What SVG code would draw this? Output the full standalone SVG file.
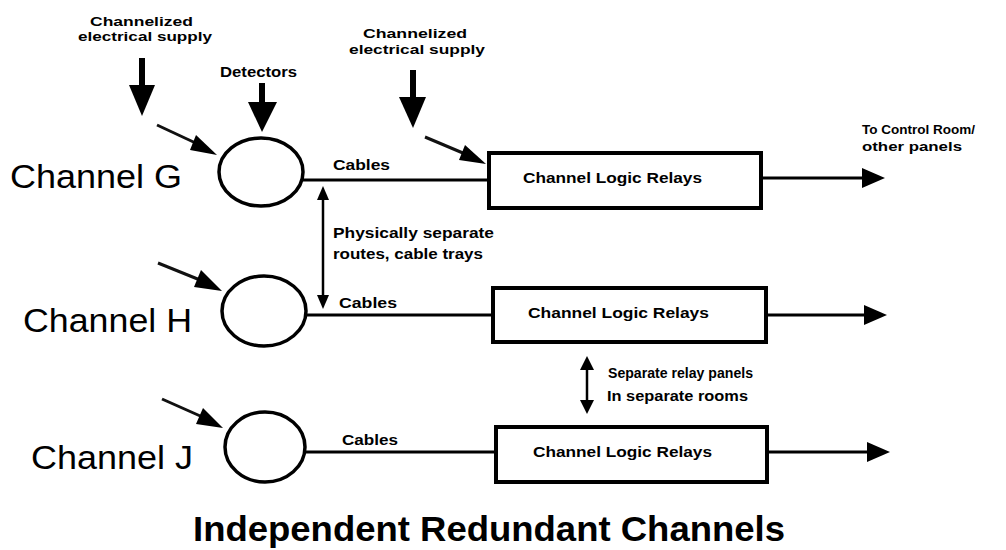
<svg xmlns="http://www.w3.org/2000/svg" width="1006" height="550" viewBox="0 0 1006 550">
  <style>
    .bg { fill: #ffffff; }
    .chan { font-family: "Liberation Sans", Arial, Helvetica, sans-serif; font-size: 34px; fill: #000; }
    .lbl { font-family: "Liberation Sans", Arial, Helvetica, sans-serif; font-size: 15px; font-weight: bold; fill: #000; }
    .sm { font-family: "Liberation Sans", Arial, Helvetica, sans-serif; font-size: 13px; font-weight: bold; fill: #000; }
    .title { font-family: "Liberation Sans", Arial, Helvetica, sans-serif; font-size: 35px; font-weight: bold; fill: #000; }
    .det { fill: #fff; stroke: #000; stroke-width: 3.5; }
    .box { fill: #fff; stroke: #000; stroke-width: 4; }
    .wire { stroke: #000; stroke-width: 3; fill: none; }
    .thin { stroke: #000; stroke-width: 2.5; fill: none; }
    .feed { stroke: #111; stroke-width: 3; fill: none; }
    .head { fill: #000; }
  </style>

  <rect class="bg" x="0" y="0" width="1006" height="550"/>

  <!-- channel names -->
  <g id="channel-names">
    <text class="chan" x="10" y="188" textLength="172" lengthAdjust="spacingAndGlyphs">Channel G</text>
    <text class="chan" x="23" y="332" textLength="169" lengthAdjust="spacingAndGlyphs">Channel H</text>
    <text class="chan" x="31" y="469" textLength="162" lengthAdjust="spacingAndGlyphs">Channel J</text>
  </g>

  <!-- supply and detector labels -->
  <g id="supply-labels">
    <text class="sm" x="90" y="26" textLength="103" lengthAdjust="spacingAndGlyphs">Channelized</text>
    <text class="sm" x="78" y="41" textLength="134" lengthAdjust="spacingAndGlyphs">electrical supply</text>
    <text class="lbl" x="220" y="77" textLength="77" lengthAdjust="spacingAndGlyphs">Detectors</text>
    <text class="sm" x="363" y="38" textLength="104" lengthAdjust="spacingAndGlyphs">Channelized</text>
    <text class="sm" x="349" y="54" textLength="136" lengthAdjust="spacingAndGlyphs">electrical supply</text>
  </g>

  <!-- detectors (one per channel) -->
  <g id="detector-g"><ellipse class="det" cx="261" cy="172" rx="42" ry="34"/></g>
  <g id="detector-h"><ellipse class="det" cx="264" cy="311" rx="42" ry="35"/></g>
  <g id="detector-j"><ellipse class="det" cx="265" cy="447" rx="40" ry="35"/></g>

  <!-- relay panels -->
  <g id="relays-g">
    <rect class="box" x="489" y="153" width="272" height="55"/>
    <text class="lbl" x="523" y="183" textLength="179" lengthAdjust="spacingAndGlyphs">Channel Logic Relays</text>
  </g>
  <g id="relays-h">
    <rect class="box" x="493" y="288" width="273" height="54"/>
    <text class="lbl" x="528" y="318" textLength="181" lengthAdjust="spacingAndGlyphs">Channel Logic Relays</text>
  </g>
  <g id="relays-j">
    <rect class="box" x="496" y="427" width="271" height="55"/>
    <text class="lbl" x="533" y="457" textLength="179" lengthAdjust="spacingAndGlyphs">Channel Logic Relays</text>
  </g>

  <!-- connectors -->
  <g id="connectors">
    <!-- cables from detectors to relay panels -->
    <line class="wire" x1="303" y1="180" x2="489" y2="180"/>
    <line class="wire" x1="306" y1="315" x2="493" y2="315"/>
    <line class="wire" x1="305" y1="452" x2="496" y2="452"/>

    <!-- outputs to control room -->
    <line class="wire" x1="761" y1="178" x2="864" y2="178"/>
    <polygon class="head" points="862,168 885,178 862,188"/>
    <line class="wire" x1="766" y1="315" x2="866" y2="315"/>
    <polygon class="head" points="864,305 887,315 864,325"/>
    <line class="wire" x1="767" y1="452" x2="869" y2="452"/>
    <polygon class="head" points="867,442 890,452 867,462"/>

    <!-- heavy downward arrows: supply and detectors -->
    <line stroke="#000" stroke-width="6" x1="142" y1="58" x2="142" y2="88"/>
    <polygon class="head" points="129,85 155,85 142,116"/>
    <line stroke="#000" stroke-width="6" x1="262" y1="83" x2="262" y2="105"/>
    <polygon class="head" points="248,102 277,102 262,132"/>
    <line stroke="#000" stroke-width="6" x1="413" y1="70" x2="413" y2="100"/>
    <polygon class="head" points="399,97 426,97 413,128"/>

    <!-- angled supply feeds -->
    <line class="feed" x1="157" y1="125" x2="202" y2="146"/>
    <polygon class="head" points="196,135 217,155 190,150"/>
    <line class="feed" x1="425" y1="137" x2="470" y2="156"/>
    <polygon class="head" points="465,145 486,164 459,160"/>
    <line class="feed" x1="158" y1="263" x2="205" y2="282"/>
    <polygon class="head" points="201,270 222,291 194,287"/>
    <line class="feed" x1="162" y1="399" x2="207" y2="419"/>
    <polygon class="head" points="203,408 223,428 196,424"/>

    <!-- separation indicators -->
    <line class="thin" x1="323" y1="198" x2="323" y2="297"/>
    <polygon class="head" points="323,186 317,200 329,200"/>
    <polygon class="head" points="323,309 317,295 329,295"/>
    <line class="thin" x1="587" y1="368" x2="587" y2="402"/>
    <polygon class="head" points="587,356 580,370 594,370"/>
    <polygon class="head" points="587,414 580,400 594,400"/>
  </g>

  <!-- annotations -->
  <g id="annotations">
    <text class="lbl" x="333" y="170" textLength="57" lengthAdjust="spacingAndGlyphs">Cables</text>
    <text class="lbl" x="339" y="308" textLength="58" lengthAdjust="spacingAndGlyphs">Cables</text>
    <text class="lbl" x="342" y="445" textLength="56" lengthAdjust="spacingAndGlyphs">Cables</text>
    <text class="lbl" x="333" y="238" textLength="161" lengthAdjust="spacingAndGlyphs">Physically separate</text>
    <text class="lbl" x="333" y="259" textLength="150" lengthAdjust="spacingAndGlyphs">routes, cable trays</text>
    <text class="lbl" x="608" y="378" textLength="145" lengthAdjust="spacingAndGlyphs">Separate relay panels</text>
    <text class="lbl" x="607" y="401" textLength="141" lengthAdjust="spacingAndGlyphs">In separate rooms</text>
    <text class="sm" x="862" y="134" textLength="113" lengthAdjust="spacingAndGlyphs">To Control Room/</text>
    <text class="sm" x="862" y="151" textLength="100" lengthAdjust="spacingAndGlyphs">other panels</text>
  </g>

  <!-- title -->
  <text class="title" x="193" y="541" textLength="592" lengthAdjust="spacingAndGlyphs">Independent Redundant Channels</text>
</svg>
